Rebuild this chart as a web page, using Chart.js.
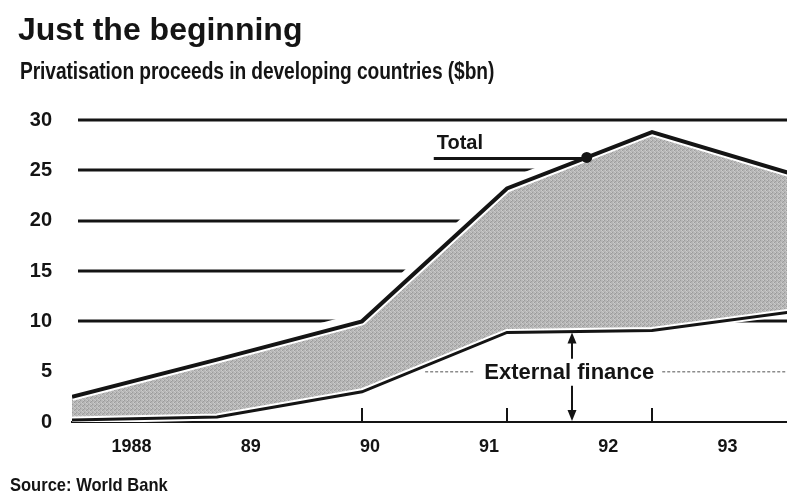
<!DOCTYPE html>
<html>
<head>
<meta charset="utf-8">
<script src="https://cdn.jsdelivr.net/npm/chart.js@4.4.1/dist/chart.umd.min.js"></script>
<style>
  html, body { margin: 0; padding: 0; background: #ffffff; }
  body { width: 787px; height: 496px; position: relative; overflow: hidden; }
  #wrap { position: absolute; left: 0; top: 0; width: 787px; height: 496px; }
  .txt { position: absolute; white-space: nowrap; color: #141414; line-height: 1; z-index: 2; transform-origin: 0 0; }
  #title { left: 18px; top: 11px; font: bold 32px "Liberation Sans", Arial, sans-serif; }
  #subtitle { left: 20px; top: 58px; font: bold 23px "Liberation Sans", Arial, sans-serif; transform: scaleX(0.834); letter-spacing: -0.1px; }
  #source { left: 10px; top: 474px; font: bold 19px "Liberation Sans", Arial, sans-serif; transform: scaleX(0.87); }
</style>
</head>
<body>
<div id="title" class="txt">Just the beginning</div>
<div id="subtitle" class="txt">Privatisation proceeds in developing countries ($bn)</div>
<div id="source" class="txt">Source: World Bank</div>
<div id="wrap"><canvas id="c" width="787" height="496"></canvas></div>
<script>
// ---- data ----
const years = [1988, 1989, 1990, 1991, 1992, 1993];
const totalProceeds = [2.5, 6.2, 10.0, 23.2, 28.8, 24.5];
const externalFinance = [0.2, 0.5, 3.0, 8.9, 9.1, 11.0];
const xTickLabels = ['1988', '89', '90', '91', '92', '93'];
const gridValues = [10, 15, 20, 25, 30];
const tickYears = [1990, 1991, 1992];
const totalNote = { text: 'Total', year: 1991.55 };
const externalNote = { text: 'External finance', year: 1991.45, value: 5 };

// ---- helpers ----
function pts(vals) { return years.map((yr, i) => ({ x: yr, y: vals[i] })); }
function valueAt(vals, yr) {
  for (let i = 0; i < years.length - 1; i++) {
    if (yr >= years[i] && yr <= years[i + 1]) {
      const t = (yr - years[i]) / (years[i + 1] - years[i]);
      return vals[i] + t * (vals[i + 1] - vals[i]);
    }
  }
  return vals[vals.length - 1];
}
function yearAt(vals, v) {
  for (let i = 0; i < years.length - 1; i++) {
    const a = vals[i], b = vals[i + 1];
    if ((v - a) * (v - b) <= 0 && a !== b) return years[i] + (v - a) / (b - a) * (years[i + 1] - years[i]);
  }
  return years[0];
}

// stipple pattern for the shaded area
function makePattern() {
  const c = document.createElement('canvas');
  c.width = 4; c.height = 4;
  const g = c.getContext('2d');
  g.fillStyle = '#b6b6b6'; g.fillRect(0, 0, 4, 4);
  g.fillStyle = '#9c9c9c'; g.fillRect(0, 0, 1, 1); g.fillRect(2, 2, 1, 1); g.fillRect(3, 1, 1, 1);
  g.fillStyle = '#cacaca'; g.fillRect(1, 2, 1, 1); g.fillRect(3, 0, 1, 1); g.fillRect(2, 3, 1, 1);
  return document.getElementById('c').getContext('2d').createPattern(c, 'repeat');
}

const INK = '#141414';
const SANS = '"Liberation Sans", Arial, sans-serif';

const decor = {
  id: 'decor',
  beforeDatasetsDraw(chart) {
    const { ctx, chartArea: a, scales: { y } } = chart;
    ctx.save();
    ctx.strokeStyle = INK;
    ctx.lineWidth = 3;
    gridValues.forEach(v => {
      const py = Math.round(y.getPixelForValue(v));
      ctx.beginPath(); ctx.moveTo(a.left + 6, py); ctx.lineTo(a.right, py); ctx.stroke();
    });
    ctx.restore();
  },
  afterDatasetsDraw(chart) {
    const { ctx, chartArea: a, scales: { x, y } } = chart;
    const y0 = y.getPixelForValue(0);
    ctx.save();
    // tick marks on the axis
    ctx.strokeStyle = INK; ctx.lineWidth = 2;
    tickYears.forEach(yr => {
      const px = Math.round(x.getPixelForValue(yr));
      ctx.beginPath(); ctx.moveTo(px, y0); ctx.lineTo(px, y0 - 14); ctx.stroke();
    });

    // Total annotation
    const tx = x.getPixelForValue(totalNote.year);
    const ty = y.getPixelForValue(valueAt(totalProceeds, totalNote.year));
    ctx.lineWidth = 3;
    ctx.beginPath(); ctx.moveTo(tx - 153, ty + 1); ctx.lineTo(tx, ty + 1); ctx.stroke();
    ctx.fillStyle = INK;
    ctx.beginPath(); ctx.arc(tx, ty, 5.5, 0, Math.PI * 2); ctx.fill();
    ctx.font = 'bold 20px ' + SANS;
    ctx.textBaseline = 'alphabetic'; ctx.textAlign = 'left';
    ctx.fillText(totalNote.text, tx - 150, ty - 8);

    // External finance annotation
    const ex = x.getPixelForValue(externalNote.year);
    const ly = y.getPixelForValue(externalNote.value);
    const topY = y.getPixelForValue(valueAt(externalFinance, externalNote.year));
    ctx.font = 'bold 22px ' + SANS;
    ctx.textAlign = 'center'; ctx.textBaseline = 'middle';
    const w = ctx.measureText(externalNote.text).width;
    ctx.fillText(externalNote.text, ex - 3, ly + 1);
    // dotted guide lines
    ctx.save();
    ctx.strokeStyle = '#8c8c8c'; ctx.lineWidth = 1.5; ctx.setLineDash([3, 2]);
    const crossX = x.getPixelForValue(yearAt(externalFinance, externalNote.value));
    ctx.beginPath(); ctx.moveTo(crossX + 14, ly); ctx.lineTo(ex - 3 - w / 2 - 10, ly); ctx.stroke();
    ctx.beginPath(); ctx.moveTo(ex - 3 + w / 2 + 8, ly); ctx.lineTo(a.right, ly); ctx.stroke();
    ctx.restore();
    // arrows
    ctx.strokeStyle = INK; ctx.fillStyle = INK; ctx.lineWidth = 2;
    const ax = Math.round(ex);
    ctx.beginPath(); ctx.moveTo(ax, topY + 8); ctx.lineTo(ax, ly - 13); ctx.stroke();
    ctx.beginPath(); ctx.moveTo(ax, topY + 1); ctx.lineTo(ax - 4.5, topY + 12); ctx.lineTo(ax + 4.5, topY + 12); ctx.closePath(); ctx.fill();
    ctx.beginPath(); ctx.moveTo(ax, ly + 14); ctx.lineTo(ax, y0 - 8); ctx.stroke();
    ctx.beginPath(); ctx.moveTo(ax, y0 - 1); ctx.lineTo(ax - 4.5, y0 - 12); ctx.lineTo(ax + 4.5, y0 - 12); ctx.closePath(); ctx.fill();
    ctx.restore();
  }
};

const line = (label, vals, color, width, extra) => Object.assign({
  label, data: pts(vals), borderColor: color, borderWidth: width,
  pointRadius: 0, tension: 0, fill: false, borderJoinStyle: 'miter', borderCapStyle: 'butt'
}, extra || {});

new Chart(document.getElementById('c'), {
  type: 'line',
  data: {
    datasets: [
      line('Total', totalProceeds, INK, 4),
      line('External finance', externalFinance, INK, 3),
      line('External halo', externalFinance, '#ffffff', 7),
      line('Total halo', totalProceeds, '#ffffff', 8, { fill: 2, backgroundColor: makePattern() }),
      line('Total knockout', totalProceeds, '#ffffff', 18)
    ]
  },
  options: {
    responsive: false,
    animation: false,
    events: [],
    layout: { padding: { left: 0, right: 0, top: 120, bottom: 34 } },
    plugins: { legend: { display: false }, tooltip: { enabled: false }, title: { display: false } },
    scales: {
      x: {
        type: 'linear', position: 'bottom',
        min: 1988, max: 1988 + 715 / 145,
        ticks: { display: false },
        grid: { display: true, drawOnChartArea: false, drawTicks: false },
        border: { display: true, color: INK, width: 2 },
        afterFit(s) { s.height = 0; }
      },
      x2: {
        type: 'category', position: 'bottom', labels: xTickLabels, offset: true,
        grid: { display: false, drawTicks: false },
        border: { display: false },
        ticks: { color: INK, padding: 14, maxRotation: 0, autoSkip: false, font: { family: SANS, size: 18, weight: 'bold' } },
        afterFit(s) { s.height = 40; }
      },
      y: {
        min: 0, max: 30,
        ticks: { stepSize: 5, color: INK, padding: 20, font: { family: SANS, size: 20, weight: 'bold' } },
        grid: { display: false, drawTicks: false },
        border: { display: false },
        afterFit(s) { s.width = 72; }
      }
    }
  },
  plugins: [decor]
});
</script>
</body>
</html>
